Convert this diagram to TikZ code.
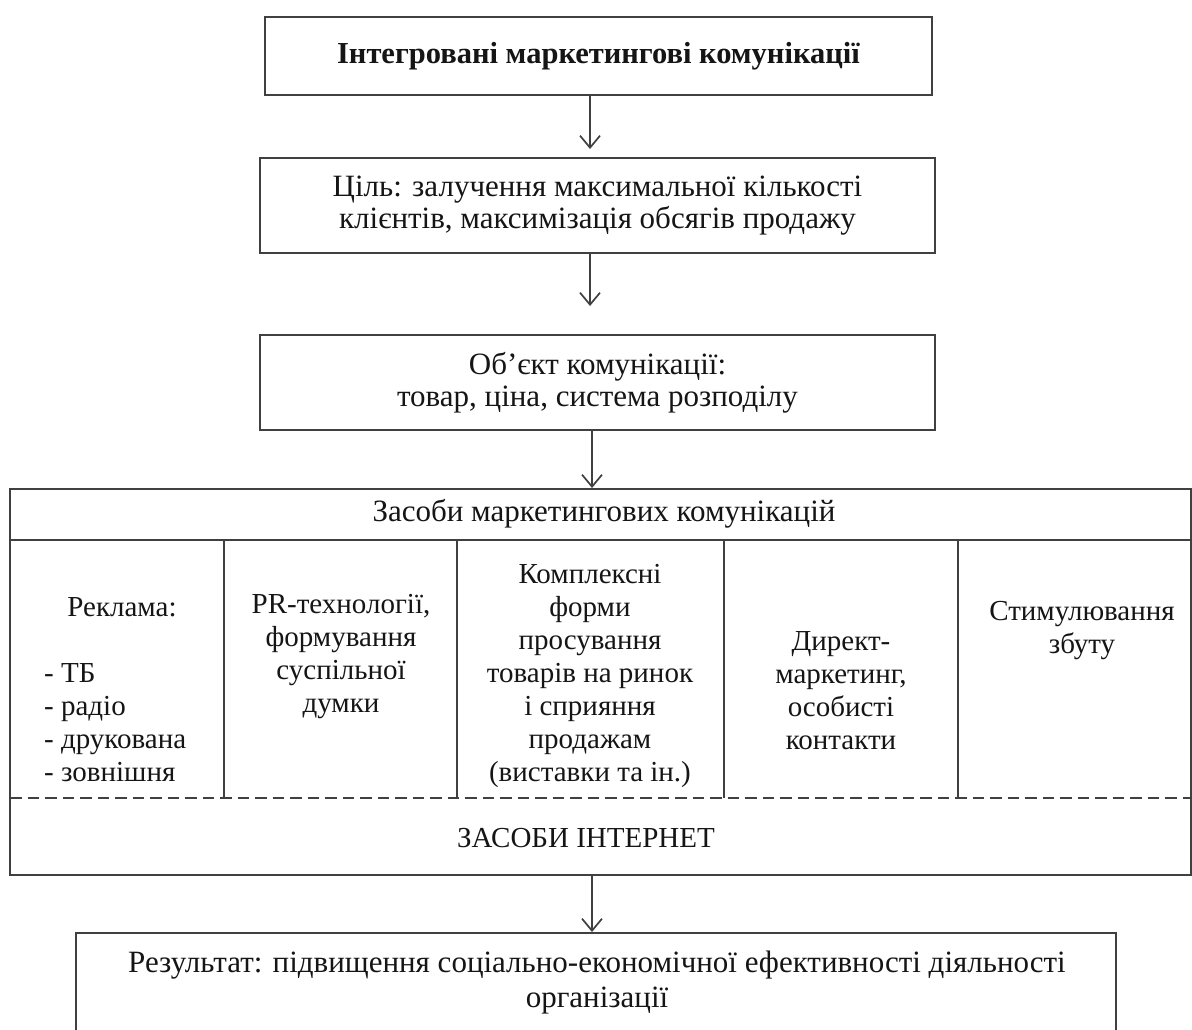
\documentclass[tikz,border=0pt]{standalone}
\usepackage{fontspec}
\setmainfont{Liberation Serif}
\usetikzlibrary{arrows.meta}
\definecolor{linec}{HTML}{404040}
\definecolor{textc}{HTML}{151515}
\begin{document}
\begin{tikzpicture}[x=1pt,y=-1pt,
  box/.style={draw=linec, line width=2pt, rectangle, inner sep=0pt},
  txt/.style={font=\fontsize{29}{33}\selectfont, text=textc, align=center, inner sep=0pt},
  bigtxt/.style={txt, font=\fontsize{31}{32.5}\selectfont},
  rule/.style={draw=linec, line width=1.7pt},
  dashrule/.style={draw=linec, line width=1.7pt, dash pattern=on 11.5pt off 6pt},
  conn/.style={draw=linec, line width=1.7pt, -{Straight Barb[length=12pt,width=20pt,line width=1.7pt]}},
]
\useasboundingbox (0,0) rectangle (1192,1030);
\fill[white] (0,0) rectangle (1192,1030);

% boxes
\node[box, minimum width=667pt, minimum height=78pt] (b1) at (598.5,56) {};
\node[txt, font=\fontsize{30.5}{33}\selectfont\bfseries] (t1) at (b1.center) {Інтегровані маркетингові комунікації};

\node[box, minimum width=675pt, minimum height=95pt] (b2) at (597.5,205.5) {};
\node[bigtxt] (t2) at (b2.center) {Ціль: залучення максимальної кількості\\клієнтів, максимізація обсягів продажу};

\node[box, minimum width=675pt, minimum height=95pt] (b3) at (597.5,382.5) {};
\node[bigtxt] (t3) at (b3.center) {Об’єкт комунікації:\\товар, ціна, система розподілу};

\node[box, minimum width=1181pt, minimum height=386pt] (big) at (600.5,682) {};

\node[box, minimum width=1040pt, minimum height=112pt] (b5) at (596,989) {};
\node[txt, font=\fontsize{31}{35}\selectfont] (t5) at (597,983) {Результат: підвищення соціально-економічної ефективності діяльності\\організації};

% inner structure of the big box
\coordinate (hl) at (10,540);
\coordinate (hr) at (1191,540);
\coordinate (dl) at (10,798);
\coordinate (dr) at (1191,798);
\draw[rule] (hl) -- (hr);
\draw[dashrule] (dl) -- (dr);
\foreach \xx in {224,457,724,958}{
  \draw[rule] (\xx,540) -- (\xx,798);
}

\node[txt, font=\fontsize{31}{33}\selectfont] (hdr) at (604,514) {Засоби маркетингових комунікацій};
\node[txt] (net) at (586,838) {ЗАСОБИ ІНТЕРНЕТ};

\node[txt] (c1a) at (122,607) {Реклама:};
\node[txt, align=left, anchor=west] (c1b) at (44,722.5) {- ТБ\\- радіо\\- друкована\\- зовнішня};
\node[txt] (c2) at (341,656.5) {PR-технології,\\формування\\суспільної\\думки};
\node[txt] (c3) at (590,676) {Комплексні\\форми\\просування\\товарів на ринок\\і сприяння\\продажам\\(виставки та ін.)};
\node[txt] (c4) at (841,691) {Директ-\\маркетинг,\\особисті\\контакти};
\node[txt] (c5) at (1082,630.5) {Стимулювання\\збуту};

% connectors
\draw[conn] ([xshift=-8.5pt]b1.south) -- ([xshift=-7.5pt,yshift=8pt]b2.north);
\draw[conn] ([xshift=-7.5pt]b2.south) -- ([xshift=-7.5pt,yshift=28pt]b3.north);
\draw[conn] ([xshift=-5.5pt]b3.south) -- ([xshift=-8.5pt]big.north);
\draw[conn] ([xshift=-8.5pt]big.south) -- ([xshift=-4pt]b5.north);
\end{tikzpicture}
\end{document}
